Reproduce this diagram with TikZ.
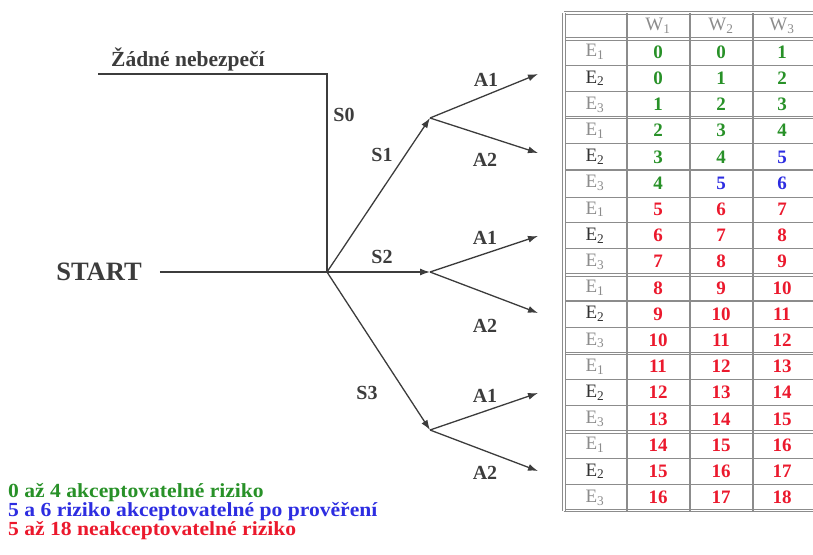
\documentclass[tikz,border=0pt]{standalone}
\usepackage{fontspec}
\setmainfont{Liberation Serif}
\usetikzlibrary{arrows.meta}
\definecolor{okgreen}{RGB}{40,145,40}
\definecolor{checkblue}{RGB}{45,45,225}
\definecolor{riskred}{RGB}{235,25,45}
\definecolor{gridgray}{RGB}{140,140,140}
\definecolor{treegray}{RGB}{60,60,60}
\newcommand\widetext[1]{\scalebox{1.08}[1]{#1}}
\begin{document}
\begin{tikzpicture}[x=1pt,y=-1pt,
    branch/.style={draw=treegray,line width=1.3pt},
    sarrow/.style={branch,-{Latex[length=10pt,width=7pt]}},
    lbl/.style={font=\fontsize{20}{20}\selectfont\bfseries,text=treegray,inner sep=0pt},
    tgrid/.style={draw=gridgray,line width=1.2pt},
    dgrid/.style={draw=gridgray,line width=0.9pt,double,double distance=1.6pt},
    whead/.style={font=\fontsize{19}{19}\selectfont,text=gridgray,inner sep=0pt},
    num/.style={font=\fontsize{19}{19}\selectfont\bfseries,inner sep=0pt},
    legtext/.style={font=\fontsize{20}{20}\selectfont\bfseries,anchor=west,inner sep=0pt}]
  \useasboundingbox (0,0) rectangle (813,554);
  % tree
  \coordinate (root) at (327,272);
  \coordinate (s0end) at (98,74);
  \coordinate (s1) at (430,118);
  \coordinate (s2) at (430,272);
  \coordinate (s3) at (430,430);
  \coordinate (a11) at (538,74);
  \coordinate (a12) at (538,153);
  \coordinate (a21) at (538,236);
  \coordinate (a22) at (538,313);
  \coordinate (a31) at (538,393);
  \coordinate (a32) at (538,471);
  \node[lbl,font=\fontsize{26.5}{26.5}\selectfont\bfseries] (start) at (99,272) {START};
  \node[lbl,anchor=base west,font=\fontsize{21.5}{21.5}\selectfont\bfseries] (nohaz) at (111,66) {Žádné nebezpečí};
  \draw[branch,shorten <=18pt] (start) -- (root);
  \draw[branch] (root) |- (s0end);
  \begin{scope}[sarrow]
    \draw (root) -- (s1);
    \draw (root) -- (s2);
    \draw (root) -- (s3);
    \draw (s1) -- (a11);
    \draw (s1) -- (a12);
    \draw (s2) -- (a21);
    \draw (s2) -- (a22);
    \draw (s3) -- (a31);
    \draw (s3) -- (a32);
  \end{scope}
  \node[lbl] (s0lbl) at (344,115) {S0};
  \node[lbl] (s1lbl) at (382,155) {S1};
  \node[lbl] (s2lbl) at (382,257) {S2};
  \node[lbl] (s3lbl) at (367,393) {S3};
  \node[lbl] (a11lbl) at (486,80) {A1};
  \node[lbl] (a12lbl) at (485,160) {A2};
  \node[lbl] (a21lbl) at (485,238) {A1};
  \node[lbl] (a22lbl) at (485,326) {A2};
  \node[lbl] (a31lbl) at (485,396) {A1};
  \node[lbl] (a32lbl) at (485,473) {A2};
  % table
  \foreach \k in {1,2,4,5,7,8,10,11,13,14,16,17}
    \draw[tgrid] (564,{39+26.2*\k}) -- (813,{39+26.2*\k});
  \foreach \k in {0,3,6,9,12,15,18}
    \draw[dgrid] (564,{39+26.2*\k}) -- (813,{39+26.2*\k});
  \draw[dgrid] (564,13) -- (813,13);
  \draw[dgrid] (564,13) -- (564,510.6);
  \foreach \x in {627,690,753}
    \draw[tgrid] (\x,13) -- (\x,510.6);
  \node[whead] (w1) at (658,26) {W\textsubscript{1}};
  \node[whead] (w2) at (721,26) {W\textsubscript{2}};
  \node[whead] (w3) at (782,26) {W\textsubscript{3}};
  \foreach \g in {0,...,5} {
    \node[whead] (e\g-1) at (595,{39+78.6*\g+13.1}) {E\textsubscript{1}};
    \node[whead,text=black!80] (e\g-2) at (595,{39+78.6*\g+39.3}) {E\textsubscript{2}};
    \node[whead] (e\g-3) at (595,{39+78.6*\g+65.5}) {E\textsubscript{3}};
  }
  \foreach \k/\a/\b/\c/\ca/\cb/\cc in {
      1/0/0/1/okgreen/okgreen/okgreen,
      2/0/1/2/okgreen/okgreen/okgreen,
      3/1/2/3/okgreen/okgreen/okgreen,
      4/2/3/4/okgreen/okgreen/okgreen,
      5/3/4/5/okgreen/okgreen/checkblue,
      6/4/5/6/okgreen/checkblue/checkblue,
      7/5/6/7/riskred/riskred/riskred,
      8/6/7/8/riskred/riskred/riskred,
      9/7/8/9/riskred/riskred/riskred,
      10/8/9/10/riskred/riskred/riskred,
      11/9/10/11/riskred/riskred/riskred,
      12/10/11/12/riskred/riskred/riskred,
      13/11/12/13/riskred/riskred/riskred,
      14/12/13/14/riskred/riskred/riskred,
      15/13/14/15/riskred/riskred/riskred,
      16/14/15/16/riskred/riskred/riskred,
      17/15/16/17/riskred/riskred/riskred,
      18/16/17/18/riskred/riskred/riskred} {
    \node[num,text=\ca] (n\k-1) at (658,{39+26.2*\k-13.1}) {\a};
    \node[num,text=\cb] (n\k-2) at (721,{39+26.2*\k-13.1}) {\b};
    \node[num,text=\cc] (n\k-3) at (782,{39+26.2*\k-13.1}) {\c};
  }
  % legend
  \node[legtext,text=okgreen] (leg1) at (8,493) {\widetext{0 až 4 akceptovatelné riziko}};
  \node[legtext,text=checkblue] (leg2) at (8,512) {\widetext{5 a 6 riziko akceptovatelné po prověření}};
  \node[legtext,text=riskred] (leg3) at (8,531) {\widetext{5 až 18 neakceptovatelné riziko}};
\end{tikzpicture}
\end{document}
